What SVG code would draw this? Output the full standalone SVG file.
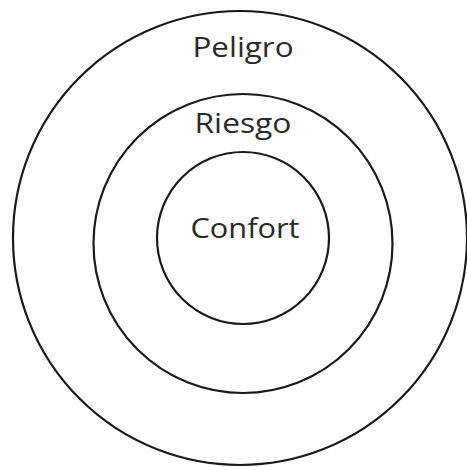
<svg xmlns="http://www.w3.org/2000/svg" width="467" height="467" viewBox="0 0 467 467">
<style>
.ring{fill:none;stroke:#1a1a1a;stroke-width:2.2}
.lbl{font-family:"Open Sans","DejaVu Sans",sans-serif;font-size:27px;fill:#2a2a2a;text-anchor:middle}
</style>
<rect width="467" height="467" fill="#fff"/>
<g id="peligro">
<circle class="ring" cx="240" cy="238" r="227"/>
<text class="lbl" x="243" y="57" textLength="101" lengthAdjust="spacingAndGlyphs">Peligro</text>
</g>
<g id="riesgo">
<circle class="ring" cx="243" cy="243.5" r="149.5"/>
<text class="lbl" x="243" y="133" textLength="97" lengthAdjust="spacingAndGlyphs">Riesgo</text>
</g>
<g id="confort">
<circle class="ring" cx="243" cy="238" r="86"/>
<text class="lbl" x="245" y="238" textLength="109" lengthAdjust="spacingAndGlyphs">Confort</text>
</g>
<g id="connectors"/>
</svg>
